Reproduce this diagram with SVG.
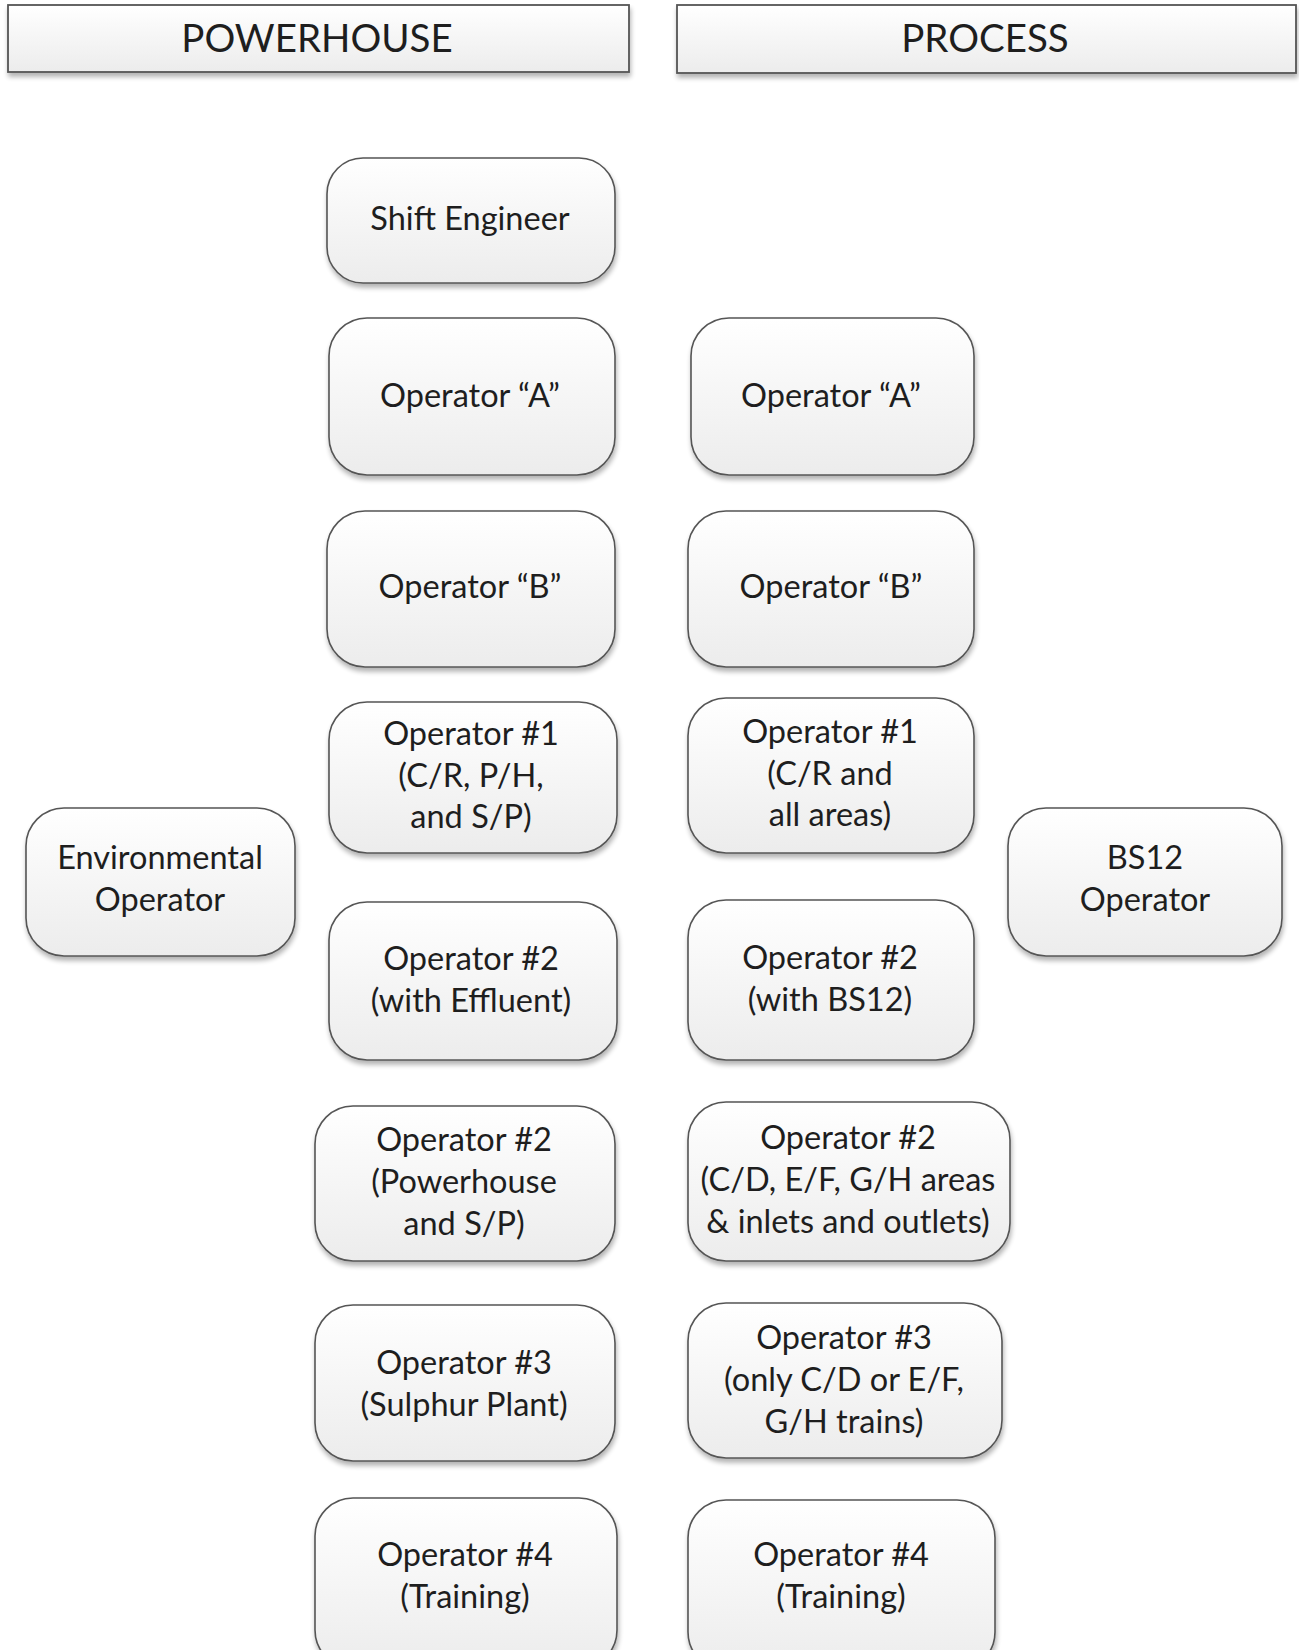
<svg xmlns="http://www.w3.org/2000/svg" width="1299" height="1650" viewBox="0 0 1299 1650">
<defs>
<linearGradient id="g" x1="0" y1="0" x2="0" y2="1">
<stop offset="0" stop-color="#ffffff"/>
<stop offset="1" stop-color="#ececec"/>
</linearGradient>
<filter id="sh" x="-5%" y="-5%" width="110%" height="120%">
<feGaussianBlur in="SourceAlpha" stdDeviation="2.5"/>
<feOffset dx="1" dy="4" result="b"/>
<feComponentTransfer><feFuncA type="linear" slope="0.3"/></feComponentTransfer>
<feMerge><feMergeNode/><feMergeNode in="SourceGraphic"/></feMerge>
</filter>
</defs>
<style>
.box{fill:url(#g);stroke:#555;stroke-width:1.6;filter:url(#sh)}
.hdr{fill:url(#g);stroke:#555;stroke-width:1.8;filter:url(#sh)}
text{font-family:Lato,"Open Sans","Liberation Sans",sans-serif;fill:#1e1e1e;text-anchor:middle}
.t{font-size:32.5px}
.h{font-size:38.5px}
</style>
<rect width="1299" height="1650" fill="#fff"/>
<g id="hdr-powerhouse"><rect class="hdr" x="8" y="5" width="621" height="67"/><text class="h" x="317" y="52">POWERHOUSE</text></g>
<g id="hdr-process"><rect class="hdr" x="677" y="5" width="619" height="68"/><text class="h" x="985" y="52">PROCESS</text></g>
<g id="connectors"></g>
<g id="shift-engineer"><rect class="box" x="327" y="158" width="288" height="125" rx="36"/><text class="t" x="470" y="230">Shift Engineer</text></g>
<g id="ph-op-a"><rect class="box" x="329" y="318" width="286" height="157" rx="38"/><text class="t" x="470" y="407">Operator “A”</text></g>
<g id="pr-op-a"><rect class="box" x="691" y="318" width="283" height="157" rx="38"/><text class="t" x="831" y="407">Operator “A”</text></g>
<g id="ph-op-b"><rect class="box" x="327" y="511" width="288" height="156" rx="38"/><text class="t" x="470" y="598">Operator “B”</text></g>
<g id="pr-op-b"><rect class="box" x="688" y="511" width="286" height="156" rx="38"/><text class="t" x="831" y="598">Operator “B”</text></g>
<g id="ph-op-1"><rect class="box" x="329" y="702" width="288" height="151" rx="38"/><text class="t" x="471" y="745">Operator #1<tspan x="471" dy="41.5">(C/R, P/H,</tspan><tspan x="471" dy="41.5">and S/P)</tspan></text></g>
<g id="pr-op-1"><rect class="box" x="688" y="698" width="286" height="155" rx="38"/><text class="t" x="830" y="743">Operator #1<tspan x="830" dy="41.5">(C/R and</tspan><tspan x="830" dy="41.5">all areas)</tspan></text></g>
<g id="env-op"><rect class="box" x="26" y="808" width="269" height="148" rx="38"/><text class="t" x="160" y="869">Environmental<tspan x="160" dy="42">Operator</tspan></text></g>
<g id="bs12-op"><rect class="box" x="1008" y="808" width="274" height="148" rx="38"/><text class="t" x="1145" y="869">BS12<tspan x="1145" dy="42">Operator</tspan></text></g>
<g id="ph-op-2"><rect class="box" x="329" y="902" width="288" height="158" rx="38"/><text class="t" x="471" y="970">Operator #2<tspan x="471" dy="42">(with Effluent)</tspan></text></g>
<g id="pr-op-2"><rect class="box" x="688" y="900" width="286" height="160" rx="38"/><text class="t" x="830" y="969">Operator #2<tspan x="830" dy="42">(with BS12)</tspan></text></g>
<g id="ph-op-2b"><rect class="box" x="315" y="1106" width="300" height="155" rx="38"/><text class="t" x="464" y="1151">Operator #2<tspan x="464" dy="42">(Powerhouse</tspan><tspan x="464" dy="42">and S/P)</tspan></text></g>
<g id="pr-op-2b"><rect class="box" x="688" y="1102" width="322" height="159" rx="38"/><text class="t" x="848" y="1149">Operator #2<tspan x="848" dy="42">(C/D, E/F, G/H areas</tspan><tspan x="848" dy="42">&amp; inlets and outlets)</tspan></text></g>
<g id="ph-op-3"><rect class="box" x="315" y="1305" width="300" height="156" rx="38"/><text class="t" x="464" y="1374">Operator #3<tspan x="464" dy="42">(Sulphur Plant)</tspan></text></g>
<g id="pr-op-3"><rect class="box" x="688" y="1303" width="314" height="155" rx="38"/><text class="t" x="844" y="1349">Operator #3<tspan x="844" dy="42">(only C/D or E/F,</tspan><tspan x="844" dy="42">G/H trains)</tspan></text></g>
<g id="ph-op-4"><rect class="box" x="315" y="1498" width="302" height="170" rx="38"/><text class="t" x="465" y="1566">Operator #4<tspan x="465" dy="42">(Training)</tspan></text></g>
<g id="pr-op-4"><rect class="box" x="688" y="1500" width="307" height="170" rx="38"/><text class="t" x="841" y="1566">Operator #4<tspan x="841" dy="42">(Training)</tspan></text></g>
</svg>
